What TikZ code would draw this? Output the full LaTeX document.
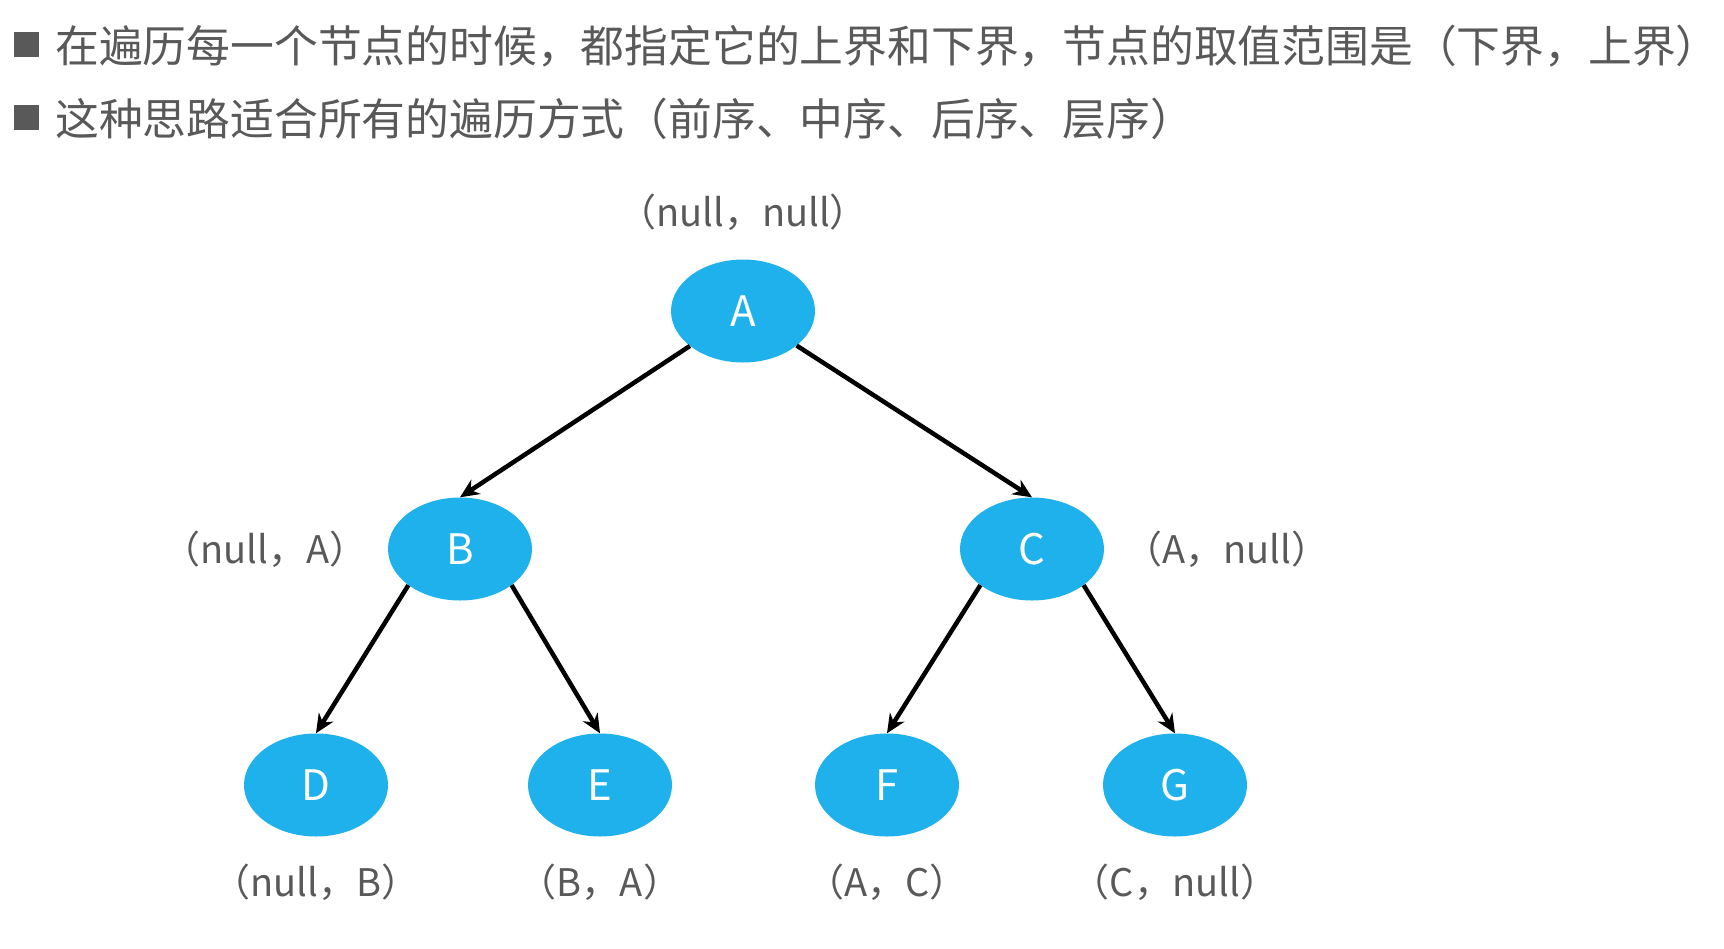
\documentclass[tikz,border=0pt]{standalone}
\usepackage{fontspec}
\setmainfont{Noto Sans CJK SC}
\usetikzlibrary{arrows.meta, shapes.geometric}
\definecolor{nodeblue}{HTML}{1FB1EC}
\definecolor{textgray}{HTML}{595959}

\begin{document}
\begin{tikzpicture}[
  x=1pt, y=-1pt,
  tnode/.style={ellipse, fill=nodeblue, minimum width=144pt, minimum height=103pt, inner sep=0pt, text=white, font=\fontsize{42}{42}\selectfont},
  bound/.style={text=textgray, inner sep=0pt, font=\fontsize{38}{38}\selectfont},
  textline/.style={text=textgray, inner sep=0pt, anchor=west, font=\fontsize{43.8}{50}\selectfont},
  bulletbox/.style={rectangle, fill=textgray, minimum size=25pt, inner sep=0pt},
  treearrow/.style={draw=black, line width=4.5pt, -{Stealth[length=19pt, width=17pt]}}
]
\useasboundingbox (0,0) rectangle (1724,948);

\node[bulletbox] (bul1) at (26.5,44.5) {};
\node[textline] (line1) at (55,46) {在遍历每一个节点的时候，都指定它的上界和下界，节点的取值范围是（下界，上界）};
\node[bulletbox] (bul2) at (26.5,117.5) {};
\node[textline] (line2) at (55,119) {这种思路适合所有的遍历方式（前序、中序、后序、层序）};

\node[tnode] (A) at (743,311) {A};
\node[tnode] (B) at (460,549) {B};
\node[tnode] (C) at (1032,549) {C};
\node[tnode] (D) at (316,785) {D};
\node[tnode] (E) at (600,785) {E};
\node[tnode] (F) at (887,785) {F};
\node[tnode] (G) at (1175,785) {G};

\node[bound] (rA) at (743,212) {（null，null）};
\node[bound] (rB) at (265,549) {（null，A）};
\node[bound] (rC) at (1227,549) {（A，null）};
\node[bound] (rD) at (316,882) {（null，B）};
\node[bound] (rE) at (600,882) {（B，A）};
\node[bound] (rF) at (887,882) {（A，C）};
\node[bound] (rG) at (1175,882) {（C，null）};

% edges
\draw[treearrow] (A) -- (B.north);
\draw[treearrow] (A) -- (C.north);
\draw[treearrow] (B.215) -- (D.north);
\draw[treearrow] (B.325) -- (E.north);
\draw[treearrow] (C.215) -- (F.north);
\draw[treearrow] (C.325) -- (G.north);

\end{tikzpicture}
\end{document}
